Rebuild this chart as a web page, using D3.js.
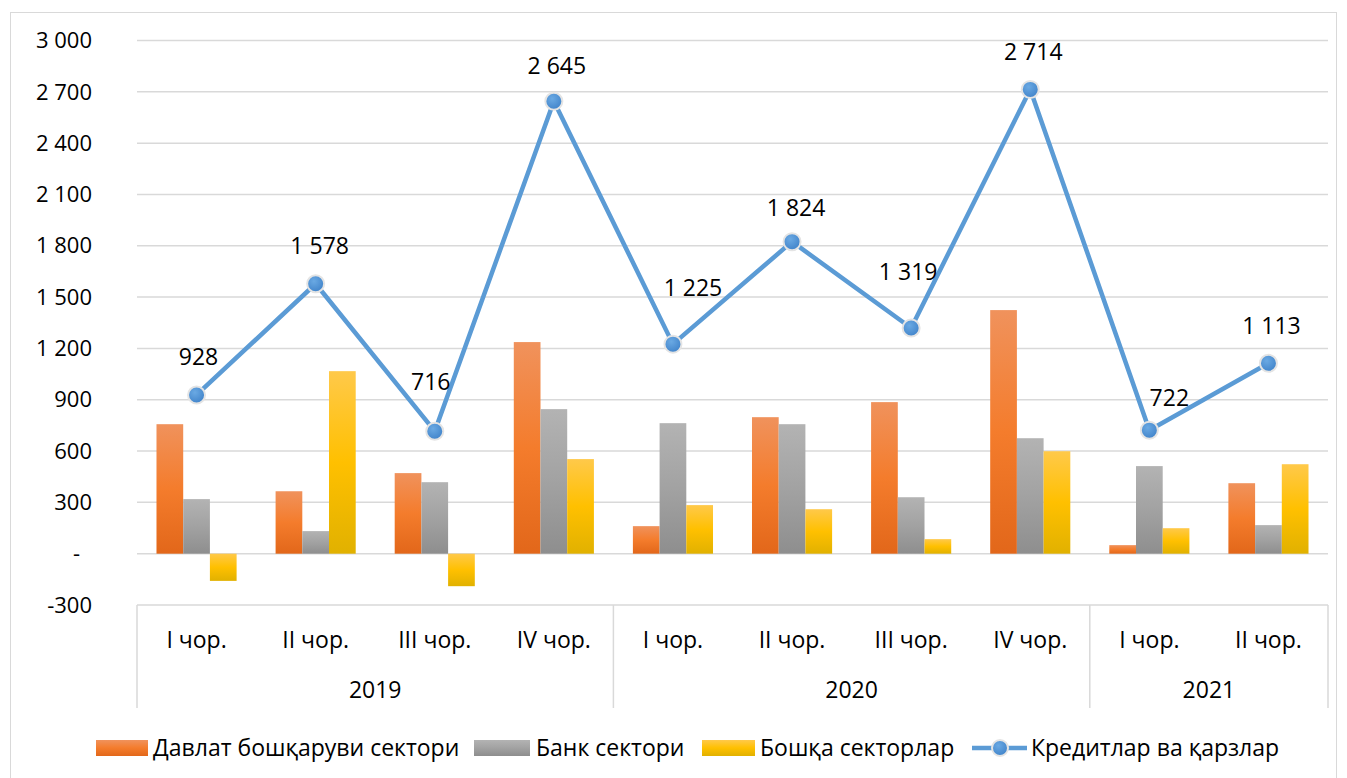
<!DOCTYPE html>
<html lang="uz">
<head>
<meta charset="UTF-8">
<title>Кредитлар ва қарзлар</title>
<script src="https://d3js.org/d3.v7.min.js"></script>
<style>
  body { margin: 0; background: #fff; }
  text { font-family: "Open Sans", "Noto Sans", sans-serif; fill: #000; }
</style>
</head>
<body>
<svg id="chart"></svg>
<script>
// quarters and years
const quarters = ['I чор.', 'II чор.', 'III чор.', 'IV чор.', 'I чор.', 'II чор.', 'III чор.', 'IV чор.', 'I чор.', 'II чор.'];
const years = [
  {label: '2019', from: 0, to: 4},
  {label: '2020', from: 4, to: 8},
  {label: '2021', from: 8, to: 10}
];

// series
const davlat = [757, 365, 471, 1237, 161, 798, 886, 1424, 50, 412];
const bank   = [319, 132, 418, 845, 763, 757, 330, 675, 512, 167];
const boshqa = [-159, 1067, -190, 553, 284, 260, 85, 599, 149, 523];
const kredit = [928, 1578, 716, 2645, 1225, 1824, 1319, 2714, 722, 1113];

const seriesNames = ['Давлат бошқаруви сектори', 'Банк сектори', 'Бошқа секторлар', 'Кредитлар ва қарзлар'];
const yTicks = [-300, 0, 300, 600, 900, 1200, 1500, 1800, 2100, 2400, 2700, 3000];

const W = 1347, H = 778;
const plot = {left: 137, right: 1328, top: 40.5, bottom: 605};

const svg = d3.select('#chart').attr('width', W).attr('height', H);

// gradients
const defs = svg.append('defs');
const grads = [
  {id: 'gOrange', stops: ['#f0925c', '#f47c2c', '#e2671a']},
  {id: 'gGray', stops: ['#b3b3b3', '#a2a2a2', '#8e8e8e']},
  {id: 'gYellow', stops: ['#ffc94a', '#ffc000', '#e1b100']}
];
grads.forEach(g => {
  const lg = defs.append('linearGradient').attr('id', g.id)
    .attr('x1', 0).attr('y1', 0).attr('x2', 0).attr('y2', 1);
  g.stops.forEach((c, i) => lg.append('stop').attr('offset', i / 2).attr('stop-color', c));
});
const gb = defs.append('radialGradient').attr('id', 'gBlue').attr('cx', '40%').attr('cy', '35%').attr('r', '70%');
gb.append('stop').attr('offset', 0).attr('stop-color', '#6aa9e3');
gb.append('stop').attr('offset', 1).attr('stop-color', '#3f82c9');

// outer border
svg.append('rect').attr('x', 10.5).attr('y', 12.5).attr('width', 1326).attr('height', 780)
  .attr('fill', 'none').attr('stroke', '#d9d9d9').attr('stroke-width', 1);

const y = d3.scaleLinear().domain([-300, 3000]).range([plot.bottom, plot.top]);
const x = d3.scaleBand().domain(d3.range(quarters.length)).range([plot.left, plot.right]);
const inner = d3.scaleBand().domain([0, 1, 2]).range([0, x.bandwidth()]).paddingInner(0).paddingOuter(0.73);

// gridlines
svg.append('g').selectAll('line').data(yTicks).join('line')
  .attr('x1', plot.left).attr('x2', plot.right)
  .attr('y1', d => y(d)).attr('y2', d => y(d))
  .attr('stroke', '#d9d9d9').attr('stroke-width', 1.5);

// y labels (accounting style: zero shown as a dash)
const fmt = v => v === 0 ? '-' : (v < 0 ? '-' + Math.abs(v) : d3.format(',')(v).replace(/,/g, ' '));
svg.append('g').selectAll('text').data(yTicks).join('text')
  .attr('x', d => d === 0 ? 80 : 92).attr('y', d => y(d)).attr('dy', '0.35em')
  .attr('text-anchor', 'end').style('font-size', '22px')
  .text(fmt);

// category axis box
const axisBottom = 708;
const bounds = [0, 4, 8, 10];
svg.append('g').selectAll('line').data(bounds).join('line')
  .attr('x1', d => d === 10 ? plot.right : x(d)).attr('x2', d => d === 10 ? plot.right : x(d))
  .attr('y1', plot.bottom).attr('y2', axisBottom)
  .attr('stroke', '#d9d9d9').attr('stroke-width', 1.5);

svg.append('g').selectAll('text').data(quarters).join('text')
  .attr('x', (d, i) => x(i) + x.bandwidth() / 2).attr('y', 640).attr('dy', '0.35em')
  .attr('text-anchor', 'middle').style('font-size', '23px')
  .text(d => d);

svg.append('g').selectAll('text').data(years).join('text')
  .attr('x', d => (x(d.from) + (d.to === 10 ? plot.right : x(d.to))) / 2).attr('y', 690).attr('dy', '0.35em')
  .attr('text-anchor', 'middle').style('font-size', '23px')
  .text(d => d.label);

// bars
const barSeries = [davlat, bank, boshqa];
const fills = ['url(#gOrange)', 'url(#gGray)', 'url(#gYellow)'];
barSeries.forEach((vals, s) => {
  svg.append('g').selectAll('rect').data(vals).join('rect')
    .attr('x', (d, i) => x(i) + inner(s))
    .attr('width', inner.bandwidth())
    .attr('y', d => y(Math.max(0, d)))
    .attr('height', d => Math.abs(y(d) - y(0)))
    .attr('fill', fills[s]);
});

// line
const cx = i => x(i) + x.bandwidth() / 2;
svg.append('path').datum(kredit)
  .attr('d', d3.line().x((d, i) => cx(i)).y(d => y(d)))
  .attr('fill', 'none').attr('stroke', '#5b9bd5').attr('stroke-width', 4.5)
  .attr('stroke-linejoin', 'round');

svg.append('g').selectAll('circle').data(kredit).join('circle')
  .attr('cx', (d, i) => cx(i)).attr('cy', d => y(d)).attr('r', 8.5)
  .attr('fill', 'url(#gBlue)').attr('stroke', '#e4e4e4').attr('stroke-width', 2);

// data labels, some nudged by hand as in the original
const labelDx = [2, 4, -4, 3, 20, 4, -3, 3, 20, 3];
const labelDy = [-38, -38, -49, -35, -56, -34, -56, -37, -32, -37];
svg.append('g').selectAll('text').data(kredit).join('text')
  .attr('x', (d, i) => cx(i) + labelDx[i]).attr('y', (d, i) => y(d) + labelDy[i]).attr('dy', '0.35em')
  .attr('text-anchor', 'middle').style('font-size', '23px')
  .text(d => d3.format(',')(d).replace(/,/g, ' '));

// legend
const legY = 748;
const leg = svg.append('g');
const legItems = [
  {x: 96, w: 52, fill: 'url(#gOrange)', tx: 153},
  {x: 474, w: 56, fill: 'url(#gGray)', tx: 536},
  {x: 702, w: 53, fill: 'url(#gYellow)', tx: 760}
];
legItems.forEach((it, i) => {
  leg.append('rect').attr('x', it.x).attr('y', legY - 8).attr('width', it.w).attr('height', 16).attr('fill', it.fill);
  leg.append('text').attr('x', it.tx).attr('y', legY).attr('dy', '0.35em').style('font-size', '23px').text(seriesNames[i]);
});
leg.append('line').attr('x1', 972).attr('x2', 1027).attr('y1', legY).attr('y2', legY)
  .attr('stroke', '#5b9bd5').attr('stroke-width', 4.5);
leg.append('circle').attr('cx', 1000).attr('cy', legY).attr('r', 8)
  .attr('fill', 'url(#gBlue)').attr('stroke', '#e4e4e4').attr('stroke-width', 2);
leg.append('text').attr('x', 1031).attr('y', legY).attr('dy', '0.35em').style('font-size', '23px').text(seriesNames[3]);
</script>
</body>
</html>
